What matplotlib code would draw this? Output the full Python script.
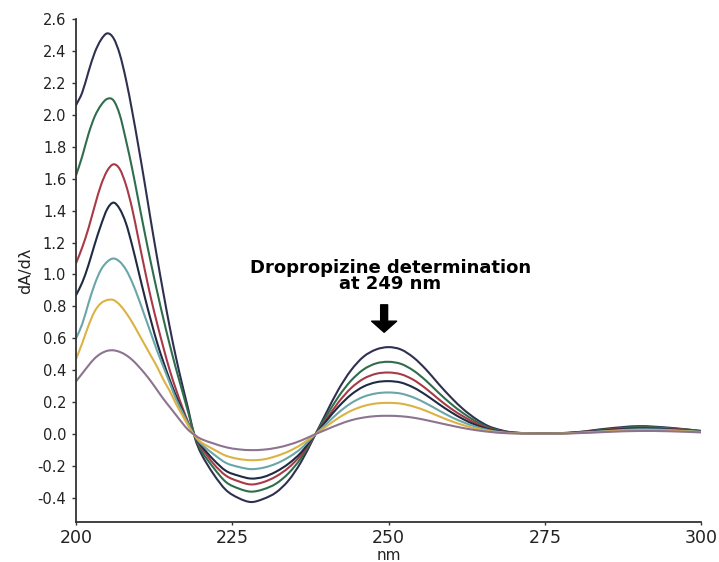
import matplotlib
matplotlib.use("Agg")
import matplotlib.pyplot as plt
from matplotlib.path import Path
from matplotlib.patches import PathPatch

plt.rcParams["font.family"] = ["DejaVu Sans"]

# wavelength grid (nm): 1 nm over the first lobe, 2 nm to 270, then 5 nm
wl = list(range(200, 221)) + list(range(222, 271, 2)) + list(range(275, 301, 5))

# first-derivative spectra (highest to lowest conc.)
c1 = [2.06, 2.14, 2.27, 2.39, 2.47, 2.51, 2.48, 2.38, 2.22, 2.02, 1.80,
      1.57, 1.33, 1.10, 0.88, 0.67, 0.48, 0.31, 0.15, -0.02, -0.12,
      -0.25, -0.35, -0.40, -0.425, -0.405, -0.365, -0.29, -0.175, -0.025, 0.13,
      0.28, 0.40, 0.485, 0.53, 0.545, 0.53, 0.48, 0.405, 0.315, 0.23,
      0.155, 0.095, 0.05, 0.025, 0.01,
      0.004, 0.012, 0.035, 0.05, 0.04, 0.02]
c2 = [1.62, 1.74, 1.88, 1.99, 2.06, 2.10, 2.09, 2.00, 1.84, 1.66, 1.46,
      1.26, 1.07, 0.89, 0.72, 0.56, 0.41, 0.27, 0.13, -0.01, -0.10,
      -0.21, -0.30, -0.34, -0.36, -0.345, -0.31, -0.245, -0.15, -0.02, 0.11,
      0.235, 0.335, 0.405, 0.443, 0.453, 0.44, 0.398, 0.335, 0.26, 0.19,
      0.13, 0.08, 0.042, 0.02, 0.01,
      0.004, 0.011, 0.03, 0.045, 0.037, 0.02]
c3 = [1.07, 1.17, 1.29, 1.43, 1.56, 1.65, 1.69, 1.66, 1.56, 1.41, 1.22,
      1.03, 0.85, 0.69, 0.54, 0.40, 0.28, 0.17, 0.07, -0.01, -0.08,
      -0.185, -0.26, -0.295, -0.315, -0.30, -0.265, -0.21, -0.13, -0.017, 0.09,
      0.2, 0.288, 0.347, 0.378, 0.386, 0.375, 0.34, 0.285, 0.22, 0.16,
      0.11, 0.068, 0.036, 0.018, 0.009,
      0.004, 0.01, 0.028, 0.04, 0.034, 0.018]
c4 = [0.87, 0.95, 1.06, 1.19, 1.31, 1.41, 1.45, 1.41, 1.32, 1.18, 1.02,
      0.86, 0.71, 0.57, 0.45, 0.34, 0.24, 0.15, 0.06, -0.01, -0.07,
      -0.16, -0.23, -0.26, -0.278, -0.268, -0.235, -0.185, -0.115, -0.015, 0.08,
      0.172, 0.247, 0.298, 0.325, 0.332, 0.323, 0.292, 0.245, 0.19, 0.138,
      0.093, 0.057, 0.031, 0.016, 0.008,
      0.004, 0.009, 0.025, 0.036, 0.03, 0.017]
c5 = [0.60, 0.69, 0.82, 0.94, 1.03, 1.08, 1.10, 1.08, 1.03, 0.95, 0.85,
      0.74, 0.63, 0.52, 0.42, 0.32, 0.22, 0.14, 0.06, -0.01, -0.06,
      -0.125, -0.18, -0.205, -0.219, -0.21, -0.185, -0.145, -0.09, -0.012, 0.062,
      0.135, 0.194, 0.234, 0.255, 0.261, 0.254, 0.23, 0.193, 0.15, 0.108,
      0.074, 0.046, 0.025, 0.013, 0.007,
      0.003, 0.008, 0.02, 0.03, 0.026, 0.015]
c6 = [0.47, 0.57, 0.68, 0.77, 0.82, 0.84, 0.84, 0.81, 0.76, 0.70, 0.63,
      0.56, 0.49, 0.42, 0.34, 0.27, 0.19, 0.12, 0.05, -0.01, -0.05,
      -0.095, -0.135, -0.155, -0.163, -0.158, -0.138, -0.108, -0.066, -0.009, 0.047,
      0.102, 0.146, 0.176, 0.192, 0.196, 0.191, 0.173, 0.146, 0.113, 0.082,
      0.056, 0.035, 0.02, 0.01, 0.006,
      0.003, 0.007, 0.017, 0.025, 0.022, 0.013]
c7 = [0.33, 0.38, 0.43, 0.475, 0.505, 0.522, 0.525, 0.515, 0.495, 0.465, 0.425,
      0.38, 0.33, 0.275, 0.22, 0.17, 0.12, 0.07, 0.025, -0.005, -0.03,
      -0.058, -0.082, -0.095, -0.100, -0.097, -0.086, -0.067, -0.04, -0.005, 0.028,
      0.06, 0.087, 0.104, 0.113, 0.115, 0.112, 0.103, 0.088, 0.071, 0.054,
      0.038, 0.025, 0.015, 0.008, 0.005,
      0.003, 0.006, 0.014, 0.02, 0.018, 0.011]

series = [c1, c2, c3, c4, c5, c6, c7]
colors = ["#2f3050", "#2f6e4c", "#a83a48", "#1f2b42", "#6aa6a8", "#dcb244", "#8c7490"]

yticks = [-0.4, -0.2, 0.0, 0.2, 0.4, 0.6, 0.8, 1.0, 1.2, 1.4, 1.6, 1.8, 2.0, 2.2, 2.4, 2.6]
xticks = [200, 225, 250, 275, 300]


def smooth_path(xs, ys):
    # cubic Hermite segments (finite-difference tangents) drawn as Bezier curves
    n = len(xs)
    m = []
    for i in range(n):
        a, b = max(i - 1, 0), min(i + 1, n - 1)
        m.append((ys[b] - ys[a]) / (xs[b] - xs[a]))
    verts = [(xs[0], ys[0])]
    codes = [Path.MOVETO]
    for i in range(n - 1):
        h = xs[i + 1] - xs[i]
        verts += [(xs[i] + h / 3, ys[i] + m[i] * h / 3),
                  (xs[i + 1] - h / 3, ys[i + 1] - m[i + 1] * h / 3),
                  (xs[i + 1], ys[i + 1])]
        codes += [Path.CURVE4] * 3
    return Path(verts, codes)


fig = plt.figure(figsize=(7.19, 5.62), dpi=100)
ax = fig.add_axes([0.1057, 0.0712, 0.8693, 0.8950])

for ys, col in zip(series, colors):
    ax.add_patch(PathPatch(smooth_path(wl, ys), fill=False, edgecolor=col,
                           lw=1.5, capstyle="round", joinstyle="round"))

ax.set_xlim(200, 300)
ax.set_ylim(-0.55, 2.6)
ax.set_xticks(xticks)
ax.set_yticks(yticks)
ax.set_yticklabels([f"{t:.1f}" for t in yticks])

for s in ("top", "right"):
    ax.spines[s].set_visible(False)
for s in ("left", "bottom"):
    ax.spines[s].set_color("#333333")
    ax.spines[s].set_linewidth(1.3)

ax.tick_params(axis="y", length=3, width=1, colors="#333333", labelsize=10.5,
               labelcolor="#222222", pad=4)
ax.tick_params(axis="x", length=2, width=1, colors="#333333", labelsize=12.5,
               labelcolor="#222222", pad=3)

ax.set_xlabel("nm", fontsize=11, color="#222222", labelpad=1)
ax.set_ylabel("dA/d\u03bb", fontsize=11.5, color="#222222")
ax.yaxis.set_label_coords(-0.068, 0.5)

ax.text(250.3, 0.99, "Dropropizine determination\nat 249 nm", ha="center",
        va="center", fontsize=13, fontweight="bold", linespacing=0.88)
ax.annotate("", xy=(249.3, 0.638), xytext=(249.3, 0.81),
            arrowprops=dict(facecolor="black", edgecolor="black", width=5,
                            headwidth=18, headlength=8, shrink=0))

fig.savefig("out.png", dpi=100)
